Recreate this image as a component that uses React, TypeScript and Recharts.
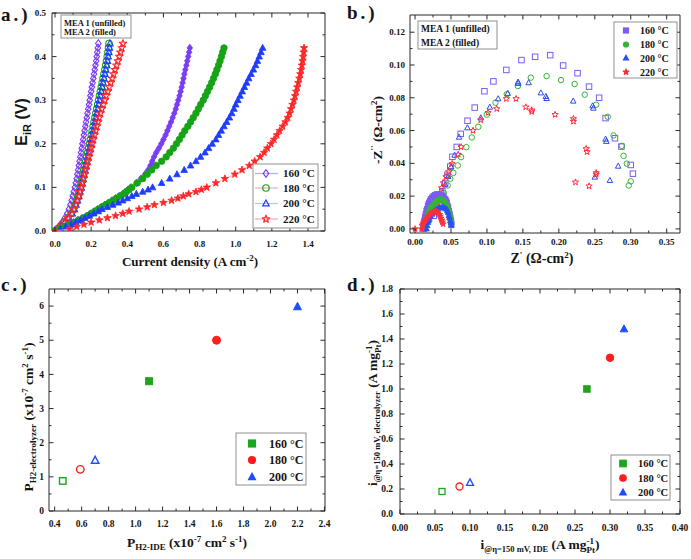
import React from 'react';
import { ScatterChart, Scatter, XAxis, YAxis } from 'recharts';

const SERIF = '"Liberation Serif", "Times New Roman", serif';
const SANS = '"Liberation Sans", Arial, sans-serif';
const INK = '#141414';
const FRAME = '#2a2a2a';

// ---------------- Panel a: polarization curves ----------------
const A_TEMPS = ['160 °C', '180 °C', '200 °C', '220 °C'];
const A_X_TICKS = [0, 0.2, 0.4, 0.6, 0.8, 1.0, 1.2, 1.4];
const A_Y_TICKS = [0, 0.1, 0.2, 0.3, 0.4, 0.5];

// MEA 1 (unfilled): voltage levels and current densities
const A_E_UNF = [0, 0.01, 0.02, 0.03, 0.04, 0.05, 0.06, 0.07, 0.08, 0.09, 0.10, 0.11, 0.12, 0.13, 0.14, 0.15, 0.16, 0.17, 0.18, 0.19, 0.20, 0.21, 0.22, 0.23, 0.24, 0.25, 0.26, 0.27, 0.28, 0.29, 0.30, 0.31, 0.32, 0.33, 0.34, 0.35, 0.36, 0.37, 0.38, 0.39, 0.40, 0.41, 0.42, 0.43];
const A_I_UNF_160 = [0, 0.022, 0.040, 0.055, 0.068, 0.077, 0.085, 0.092, 0.098, 0.104, 0.110, 0.115, 0.120, 0.124, 0.128, 0.132, 0.136, 0.140, 0.144, 0.148, 0.152, 0.156, 0.160, 0.164, 0.168, 0.172, 0.176, 0.180, 0.184, 0.188, 0.192, 0.196, 0.200, 0.204, 0.208, 0.212, 0.216, 0.220, 0.224, 0.228, 0.231, 0.234, 0.237, 0.240];
const A_I_UNF_180 = [0, 0.028, 0.052, 0.072, 0.090, 0.102, 0.111, 0.119, 0.126, 0.133, 0.140, 0.145, 0.150, 0.155, 0.160, 0.165, 0.170, 0.175, 0.181, 0.186, 0.191, 0.196, 0.201, 0.206, 0.211, 0.216, 0.221, 0.226, 0.231, 0.236, 0.241, 0.246, 0.251, 0.256, 0.261, 0.266, 0.271, 0.276, 0.281, 0.285, 0.289, 0.293, 0.296, 0.299];
const A_I_UNF_200 = [0, 0.030, 0.055, 0.075, 0.095, 0.107, 0.116, 0.124, 0.131, 0.138, 0.145, 0.150, 0.155, 0.160, 0.165, 0.170, 0.175, 0.180, 0.186, 0.191, 0.196, 0.201, 0.206, 0.211, 0.216, 0.221, 0.226, 0.231, 0.236, 0.241, 0.246, 0.251, 0.256, 0.261, 0.266, 0.271, 0.276, 0.281, 0.286, 0.290, 0.294, 0.298, 0.301, 0.304];
const A_I_UNF_220 = [0, 0.025, 0.050, 0.072, 0.092, 0.104, 0.114, 0.123, 0.131, 0.139, 0.146, 0.152, 0.158, 0.164, 0.170, 0.176, 0.182, 0.188, 0.194, 0.200, 0.206, 0.212, 0.218, 0.225, 0.231, 0.238, 0.244, 0.251, 0.259, 0.267, 0.275, 0.283, 0.292, 0.300, 0.308, 0.316, 0.324, 0.332, 0.340, 0.348, 0.355, 0.362, 0.369, 0.376];

// MEA 2 (filled)
const A_E_FIL = [0, 0.005, 0.01, 0.015, 0.02, 0.025, 0.03, 0.035, 0.04, 0.045, 0.05, 0.055, 0.06, 0.065, 0.07, 0.075, 0.08, 0.085, 0.09, 0.095, 0.10, 0.11, 0.12, 0.13, 0.14, 0.15, 0.16, 0.17, 0.18, 0.19, 0.20, 0.21, 0.22, 0.23, 0.24, 0.25, 0.26, 0.27, 0.28, 0.29, 0.30, 0.31, 0.32, 0.33, 0.34, 0.35, 0.36, 0.37, 0.38, 0.39, 0.40, 0.41, 0.42];
const A_I_FIL_160 = [0, 0.024, 0.048, 0.077, 0.102, 0.127, 0.152, 0.176, 0.196, 0.216, 0.236, 0.256, 0.276, 0.296, 0.316, 0.335, 0.355, 0.374, 0.390, 0.405, 0.420, 0.450, 0.475, 0.498, 0.515, 0.528, 0.538, 0.548, 0.560, 0.575, 0.588, 0.600, 0.612, 0.622, 0.632, 0.642, 0.651, 0.660, 0.668, 0.675, 0.682, 0.689, 0.695, 0.701, 0.706, 0.711, 0.716, 0.721, 0.727, 0.732, 0.737, 0.742, 0.746];
const A_I_FIL_180 = [0, 0.025, 0.050, 0.080, 0.105, 0.130, 0.155, 0.180, 0.200, 0.220, 0.240, 0.260, 0.280, 0.300, 0.320, 0.340, 0.360, 0.380, 0.395, 0.410, 0.425, 0.455, 0.485, 0.510, 0.535, 0.560, 0.590, 0.615, 0.635, 0.655, 0.672, 0.688, 0.703, 0.718, 0.735, 0.750, 0.765, 0.780, 0.793, 0.806, 0.820, 0.832, 0.844, 0.856, 0.867, 0.877, 0.887, 0.896, 0.905, 0.913, 0.921, 0.928, 0.935];
const A_I_FIL_200 = [0, 0.030, 0.060, 0.090, 0.115, 0.140, 0.165, 0.190, 0.215, 0.240, 0.260, 0.290, 0.320, 0.350, 0.375, 0.400, 0.425, 0.450, 0.485, 0.515, 0.540, 0.590, 0.635, 0.675, 0.715, 0.750, 0.780, 0.805, 0.830, 0.850, 0.870, 0.890, 0.905, 0.920, 0.935, 0.950, 0.965, 0.978, 0.990, 1.000, 1.012, 1.024, 1.036, 1.048, 1.060, 1.072, 1.085, 1.098, 1.110, 1.120, 1.130, 1.140, 1.149];
const A_I_FIL_220 = [0, 0.080, 0.120, 0.160, 0.200, 0.245, 0.290, 0.335, 0.375, 0.410, 0.465, 0.510, 0.550, 0.600, 0.645, 0.680, 0.710, 0.740, 0.780, 0.810, 0.840, 0.890, 0.940, 0.995, 1.035, 1.075, 1.105, 1.135, 1.157, 1.175, 1.195, 1.212, 1.228, 1.243, 1.260, 1.275, 1.288, 1.298, 1.306, 1.314, 1.322, 1.328, 1.334, 1.340, 1.346, 1.352, 1.357, 1.362, 1.366, 1.370, 1.373, 1.376, 1.378];

// ---------------- Panel b: Nyquist plots [Z', -Z''] ----------------
const B_X_TICKS = [0, 0.05, 0.10, 0.15, 0.20, 0.25, 0.30, 0.35];
const B_Y_TICKS = [0, 0.02, 0.04, 0.06, 0.08, 0.10, 0.12];
const B_UNF_160 = [[0.026, 0.008], [0.030, 0.013], [0.034, 0.018], [0.038, 0.023], [0.042, 0.028], [0.045, 0.033], [0.049, 0.038], [0.052, 0.044], [0.058, 0.050], [0.0635, 0.058], [0.073, 0.066], [0.083, 0.074], [0.0965, 0.084], [0.109, 0.090], [0.127, 0.097], [0.148, 0.103], [0.167, 0.105], [0.188, 0.106], [0.206, 0.0997], [0.226, 0.095], [0.242, 0.0868], [0.256, 0.080], [0.265, 0.0676], [0.278, 0.0553], [0.287, 0.0502], [0.300, 0.039], [0.303, 0.0337]];
const B_UNF_180 = [[0.032, 0.013], [0.036, 0.018], [0.040, 0.022], [0.0455, 0.0265], [0.049, 0.0306], [0.0533, 0.0342], [0.0594, 0.0387], [0.064, 0.0438], [0.0714, 0.0499], [0.0789, 0.0558], [0.088, 0.0623], [0.0997, 0.0697], [0.1118, 0.077], [0.1276, 0.0822], [0.143, 0.0872], [0.161, 0.0923], [0.183, 0.0932], [0.203, 0.0908], [0.222, 0.0884], [0.236, 0.0819], [0.2519, 0.0758], [0.268, 0.0684], [0.276, 0.057], [0.2876, 0.0507], [0.290, 0.0446], [0.2945, 0.0398], [0.300, 0.029], [0.2973, 0.0265]];
const B_UNF_200 = [[0.030, 0.012], [0.034, 0.017], [0.038, 0.022], [0.042, 0.027], [0.046, 0.032], [0.050, 0.038], [0.055, 0.045], [0.0612, 0.056], [0.0728, 0.0617], [0.0915, 0.0678], [0.104, 0.0743], [0.1156, 0.0794], [0.129, 0.0827], [0.1433, 0.0896], [0.1433, 0.0888], [0.158, 0.0892], [0.175, 0.083], [0.182, 0.0808], [0.183, 0.0796], [0.220, 0.078], [0.247, 0.0751], [0.248, 0.0737], [0.265, 0.0548], [0.266, 0.0534], [0.2825, 0.0383], [0.271, 0.0296], [0.250, 0.0316]];
const B_UNF_220 = [[0.028, 0.012], [0.031, 0.016], [0.034, 0.021], [0.037, 0.025], [0.0394, 0.0281], [0.043, 0.0318], [0.0468, 0.0348], [0.0515, 0.0397], [0.060, 0.0454], [0.064, 0.050], [0.0807, 0.060], [0.0914, 0.0664], [0.1016, 0.0709], [0.1136, 0.0733], [0.127, 0.0794], [0.1405, 0.0794], [0.154, 0.0743], [0.1623, 0.0725], [0.1623, 0.0715], [0.1948, 0.0697], [0.2203, 0.0672], [0.2203, 0.0656], [0.238, 0.0489], [0.2393, 0.047], [0.2519, 0.0342], [0.2519, 0.0332], [0.2231, 0.0285], [0.2421, 0.0261]];
const B_FIL_160 = [[0.012, 0.000], [0.0125, 0.003], [0.013, 0.005], [0.014, 0.007], [0.015, 0.009], [0.016, 0.011], [0.017, 0.012], [0.018, 0.014], [0.019, 0.015], [0.020, 0.016], [0.021, 0.017], [0.022, 0.018], [0.024, 0.019], [0.026, 0.020], [0.028, 0.0205], [0.030, 0.021], [0.032, 0.021], [0.034, 0.021], [0.036, 0.0205], [0.038, 0.020], [0.040, 0.019], [0.042, 0.018], [0.043, 0.017], [0.044, 0.016], [0.045, 0.014], [0.046, 0.013], [0.047, 0.011], [0.048, 0.009], [0.049, 0.007], [0.050, 0.005], [0.0505, 0.003]];
const B_FIL_180 = [[0.014, 0.000], [0.015, 0.003], [0.016, 0.005], [0.017, 0.007], [0.018, 0.009], [0.019, 0.010], [0.020, 0.011], [0.022, 0.013], [0.024, 0.014], [0.026, 0.015], [0.028, 0.016], [0.030, 0.017], [0.032, 0.0175], [0.034, 0.018], [0.036, 0.018], [0.038, 0.0175], [0.040, 0.017], [0.042, 0.016], [0.044, 0.0145], [0.045, 0.013], [0.046, 0.012], [0.047, 0.010], [0.048, 0.009], [0.049, 0.007], [0.050, 0.005], [0.0505, 0.003]];
const B_FIL_200 = [[0.016, 0.000], [0.017, 0.002], [0.018, 0.004], [0.019, 0.005], [0.020, 0.006], [0.022, 0.0075], [0.024, 0.009], [0.026, 0.010], [0.028, 0.011], [0.030, 0.012], [0.032, 0.0125], [0.034, 0.013], [0.036, 0.013], [0.038, 0.0135], [0.040, 0.013], [0.042, 0.0125], [0.044, 0.012], [0.045, 0.011], [0.046, 0.010], [0.047, 0.008], [0.048, 0.007], [0.049, 0.005], [0.050, 0.004], [0.0505, 0.002]];
const B_FIL_220 = [[0.000, 0.000], [0.009, 0.000], [0.010, 0.002], [0.011, 0.003], [0.012, 0.004], [0.014, 0.005], [0.016, 0.0065], [0.018, 0.0075], [0.020, 0.0085], [0.022, 0.0095], [0.024, 0.010], [0.026, 0.0108], [0.028, 0.011], [0.030, 0.0105], [0.032, 0.0098], [0.034, 0.0088], [0.035, 0.0078], [0.036, 0.0066], [0.037, 0.0054], [0.038, 0.0042], [0.039, 0.003]];

// ---------------- Panel c: permeability ----------------
const CD_TEMPS = ['160 °C', '180 °C', '200 °C'];
const C_X_TICKS = [0.4, 0.6, 0.8, 1.0, 1.2, 1.4, 1.6, 1.8, 2.0, 2.2, 2.4];
const C_Y_TICKS = [0, 1, 2, 3, 4, 5, 6];
const C_MEA1_X = [0.46, 0.59, 0.70];
const C_MEA1_Y = [0.88, 1.22, 1.48];
const C_MEA2_X = [1.10, 1.60, 2.20];
const C_MEA2_Y = [3.80, 5.00, 5.98];

// ---------------- Panel d: mass activity ----------------
const D_X_TICKS = [0, 0.05, 0.10, 0.15, 0.20, 0.25, 0.30, 0.35, 0.40];
const D_Y_TICKS = [0, 0.2, 0.4, 0.6, 0.8, 1.0, 1.2, 1.4, 1.6, 1.8];
const D_MEA1_X = [0.060, 0.085, 0.100];
const D_MEA1_Y = [0.18, 0.22, 0.25];
const D_MEA2_X = [0.267, 0.300, 0.320];
const D_MEA2_Y = [1.00, 1.25, 1.48];

// ---------------- styles ----------------
type Kind = 'square' | 'circle' | 'triangle' | 'diamond' | 'star';
const A_KINDS: Kind[] = ['diamond', 'circle', 'triangle', 'star'];
const A_COLORS = ['#7a3cf5', '#16a316', '#1e3cff', '#ff2626'];
const A_LINES = ['#b7acec', '#f3a6c0', '#a8d5c6', '#f3a6c0'];
const B_KINDS: Kind[] = ['square', 'circle', 'triangle', 'star'];
const B_COLORS = ['#7b5cf2', '#35b535', '#2c4ff0', '#ff2d3a'];
const CD_KINDS: Kind[] = ['square', 'circle', 'triangle'];
const CD_COLORS = ['#1ea51e', '#ff1c1c', '#1f4dff'];

function Mark({ kind, cx, cy, size, color, filled, sw }: any) {
  if (cx == null || cy == null || Number.isNaN(cx) || Number.isNaN(cy)) return null;
  const fill = filled ? color : 'none';
  const h = size / 2;
  const common = { fill, stroke: color, strokeWidth: sw };
  switch (kind as Kind) {
    case 'square':
      return <rect x={cx - h} y={cy - h} width={size} height={size} {...common} />;
    case 'circle':
      return <circle cx={cx} cy={cy} r={h} {...common} />;
    case 'diamond':
      return <polygon points={`${cx},${cy - h * 1.15} ${cx + h * 0.85},${cy} ${cx},${cy + h * 1.15} ${cx - h * 0.85},${cy}`} {...common} />;
    case 'triangle':
      return <polygon points={`${cx},${cy - h * 1.1} ${cx + h},${cy + h * 0.75} ${cx - h},${cy + h * 0.75}`} {...common} />;
    case 'star': {
      const pts: string[] = [];
      for (let i = 0; i < 10; i++) {
        const r = i % 2 === 0 ? h * 1.2 : h * 0.5;
        const a = -Math.PI / 2 + (i * Math.PI) / 5;
        pts.push(`${cx + r * Math.cos(a)},${cy + r * Math.sin(a)}`);
      }
      return <polygon points={pts.join(' ')} {...common} strokeLinejoin="round" />;
    }
  }
  return null;
}

const withMinor = (majors: number[]) => {
  const out: number[] = [];
  for (let i = 0; i < majors.length; i++) {
    out.push(majors[i]);
    if (i < majors.length - 1) out.push(+((majors[i] + majors[i + 1]) / 2).toFixed(6));
  }
  return out;
};

function Tick(props: any) {
  const { x, y, payload, side, majors, fmt, fs, off, labels } = props;
  const v = payload ? payload.value : 0;
  const major = majors.some((m: number) => Math.abs(m - v) < 1e-7);
  const L = major ? 4.5 : 2.5;
  let ln: number[];
  if (side === 'bottom') ln = [x, y, x, y - L];
  else if (side === 'top') ln = [x, y, x, y + L];
  else if (side === 'left') ln = [x, y, x + L, y];
  else ln = [x, y, x - L, y];
  let label = null;
  if (labels && major) {
    if (side === 'bottom') {
      label = (
        <text x={x} y={y + off} textAnchor="middle" fontSize={fs} fontWeight="bold" fontFamily={SERIF} fill={INK}>
          {fmt(v)}
        </text>
      );
    } else if (side === 'left') {
      label = (
        <text x={x - off} y={y + fs * 0.34} textAnchor="end" fontSize={fs} fontWeight="bold" fontFamily={SERIF} fill={INK}>
          {fmt(v)}
        </text>
      );
    }
  }
  return (
    <g>
      <line x1={ln[0]} y1={ln[1]} x2={ln[2]} y2={ln[3]} stroke={FRAME} strokeWidth={1} />
      {label}
    </g>
  );
}

function Panel(props: any) {
  const { pos, size, plot, xDom, yDom, xMaj, yMaj, xFmt, yFmt, fs, xOff, yOff, series } = props;
  const xAll = withMinor(xMaj);
  const yAll = withMinor(yMaj);
  const axisLine = { stroke: FRAME, strokeWidth: 1 };
  const common = { type: 'number' as const, allowDataOverflow: true, interval: 0 as const, tickSize: 0, tickMargin: 0, tickLine: false, axisLine };
  return (
    <div style={{ position: 'absolute', left: pos[0], top: pos[1], width: size[0], height: size[1] }}>
      <ScatterChart width={size[0]} height={size[1]} margin={{ top: 0, right: 0, bottom: 0, left: 0 }}>
        <XAxis xAxisId="b" orientation="bottom" dataKey="x" domain={xDom} ticks={xAll} height={size[1] - plot.b} {...common}
          tick={<Tick side="bottom" majors={xMaj} fmt={xFmt} fs={fs} off={xOff} labels />} />
        <XAxis xAxisId="t" orientation="top" dataKey="x" domain={xDom} ticks={xAll} height={plot.t} {...common}
          tick={<Tick side="top" majors={xMaj} />} />
        <YAxis yAxisId="l" orientation="left" dataKey="y" domain={yDom} ticks={yAll} width={plot.l} {...common}
          tick={<Tick side="left" majors={yMaj} fmt={yFmt} fs={fs} off={yOff} labels />} />
        <YAxis yAxisId="r" orientation="right" dataKey="y" domain={yDom} ticks={yAll} width={size[0] - plot.r} {...common}
          tick={<Tick side="right" majors={yMaj} />} />
        {series}
      </ScatterChart>
    </div>
  );
}

const toPts = (xs: number[], ys: number[]) => xs.map((x, i) => ({ x, y: ys[i] }));
const pairPts = (arr: number[][]) => arr.map((p) => ({ x: p[0], y: p[1] }));

function LegendBox({ x, y, w, h, rows, markX, textX, fs, size, filled, lineX }: any) {
  return (
    <g>
      <rect x={x} y={y} width={w} height={h} fill="#fff" stroke="#8f8f8f" strokeWidth={1} />
      {rows.map((r: any, i: number) => (
        <g key={i}>
          {lineX ? <line x1={lineX[0]} x2={lineX[1]} y1={r.y} y2={r.y} stroke={r.line} strokeWidth={1.2} /> : null}
          <Mark kind={r.kind} cx={markX} cy={r.y} size={size} color={r.color} filled={filled} sw={1.2} />
          <text x={textX} y={r.y + fs * 0.36} fontSize={fs} fontWeight="bold" fontFamily={SERIF} fill={INK}>{r.label}</text>
        </g>
      ))}
    </g>
  );
}

export default function App() {
  const aUnf = [A_I_UNF_160, A_I_UNF_180, A_I_UNF_200, A_I_UNF_220];
  const aFil = [A_I_FIL_160, A_I_FIL_180, A_I_FIL_200, A_I_FIL_220];
  const aSeries: any[] = [];
  A_KINDS.forEach((k, i) => {
    aSeries.push(
      <Scatter key={'au' + i} xAxisId="b" yAxisId="l" data={toPts(aUnf[i], A_E_UNF)} isAnimationActive={false}
        line={{ stroke: A_LINES[i], strokeWidth: 0.8 }} lineType="joint"
        shape={(p: any) => <Mark kind={k} cx={p.cx} cy={p.cy} size={6.5} color={A_COLORS[i]} filled={false} sw={1.1} />} />
    );
  });
  A_KINDS.forEach((k, i) => {
    aSeries.push(
      <Scatter key={'af' + i} xAxisId="b" yAxisId="l" data={toPts(aFil[i], A_E_FIL)} isAnimationActive={false}
        line={{ stroke: A_LINES[i], strokeWidth: 0.8 }} lineType="joint"
        shape={(p: any) => <Mark kind={k} cx={p.cx} cy={p.cy} size={6.5} color={A_COLORS[i]} filled sw={0.8} />} />
    );
  });

  const bUnf = [B_UNF_160, B_UNF_180, B_UNF_200, B_UNF_220];
  const bFil = [B_FIL_160, B_FIL_180, B_FIL_200, B_FIL_220];
  const bSeries: any[] = [];
  B_KINDS.forEach((k, i) => {
    bSeries.push(
      <Scatter key={'bu' + i} xAxisId="b" yAxisId="l" data={pairPts(bUnf[i])} isAnimationActive={false}
        shape={(p: any) => <Mark kind={k} cx={p.cx} cy={p.cy} size={5.5} color={B_COLORS[i]} filled={false} sw={1} />} />
    );
  });
  B_KINDS.forEach((k, i) => {
    bSeries.push(
      <Scatter key={'bf' + i} xAxisId="b" yAxisId="l" data={pairPts(bFil[i])} isAnimationActive={false}
        shape={(p: any) => <Mark kind={k} cx={p.cx} cy={p.cy} size={5.5} color={B_COLORS[i]} filled sw={0.8} />} />
    );
  });

  const cSeries: any[] = [];
  const dSeries: any[] = [];
  CD_KINDS.forEach((k, i) => {
    cSeries.push(
      <Scatter key={'cu' + i} xAxisId="b" yAxisId="l" data={[{ x: C_MEA1_X[i], y: C_MEA1_Y[i] }]} isAnimationActive={false}
        shape={(p: any) => <Mark kind={k} cx={p.cx} cy={p.cy} size={k === 'square' ? 6.5 : 7.5} color={CD_COLORS[i]} filled={false} sw={1.4} />} />,
      <Scatter key={'cf' + i} xAxisId="b" yAxisId="l" data={[{ x: C_MEA2_X[i], y: C_MEA2_Y[i] }]} isAnimationActive={false}
        shape={(p: any) => <Mark kind={k} cx={p.cx} cy={p.cy} size={k === 'square' ? 7 : 8} color={CD_COLORS[i]} filled sw={1} />} />
    );
    dSeries.push(
      <Scatter key={'du' + i} xAxisId="b" yAxisId="l" data={[{ x: D_MEA1_X[i], y: D_MEA1_Y[i] }]} isAnimationActive={false}
        shape={(p: any) => <Mark kind={k} cx={p.cx} cy={p.cy} size={k === 'square' ? 6 : 7} color={CD_COLORS[i]} filled={false} sw={1.3} />} />,
      <Scatter key={'df' + i} xAxisId="b" yAxisId="l" data={[{ x: D_MEA2_X[i], y: D_MEA2_Y[i] }]} isAnimationActive={false}
        shape={(p: any) => <Mark kind={k} cx={p.cx} cy={p.cy} size={k === 'square' ? 6.5 : 7.5} color={CD_COLORS[i]} filled sw={1} />} />
    );
  });

  const aLegendY = [173.5, 188, 203.5, 219];
  const bLegendY = [30.5, 44.5, 58, 72];
  const cLegendY = [443.5, 460, 477];
  const dLegendY = [463.5, 478, 492.5];

  return (
    <div style={{ position: 'absolute', left: 0, top: 0, width: 691, height: 559, background: '#fff', overflow: 'hidden' }}>
      <Panel pos={[0, 0]} size={[345, 280]} plot={{ l: 52, t: 13, r: 325, b: 231 }} xDom={[-0.0166, 1.494]} yDom={[0, 0.5]}
        xMaj={A_X_TICKS} yMaj={A_Y_TICKS} xFmt={(v: number) => v.toFixed(1)} yFmt={(v: number) => v.toFixed(1)} fs={9} xOff={16} yOff={6} series={aSeries} />
      <Panel pos={[345, 0]} size={[346, 280]} plot={{ l: 65, t: 15, r: 335, b: 233 }} xDom={[-0.007, 0.3685]} yDom={[-0.0025, 0.1305]}
        xMaj={B_X_TICKS} yMaj={B_Y_TICKS} xFmt={(v: number) => v.toFixed(2)} yFmt={(v: number) => v.toFixed(2)} fs={9} xOff={12} yOff={5} series={bSeries} />
      <Panel pos={[0, 280]} size={[345, 279]} plot={{ l: 49, t: 9, r: 325, b: 231 }} xDom={[0.358, 2.404]} yDom={[0, 6.5]}
        xMaj={C_X_TICKS} yMaj={C_Y_TICKS} xFmt={(v: number) => v.toFixed(1)} yFmt={(v: number) => String(v)} fs={9.5} xOff={16} yOff={5} series={cSeries} />
      <Panel pos={[345, 280]} size={[346, 279]} plot={{ l: 55, t: 9, r: 335, b: 234 }} xDom={[0, 0.4]} yDom={[0, 1.8]}
        xMaj={D_X_TICKS} yMaj={D_Y_TICKS} xFmt={(v: number) => v.toFixed(2)} yFmt={(v: number) => v.toFixed(1)} fs={9.5} xOff={17} yOff={7} series={dSeries} />

      <svg width={691} height={559} style={{ position: 'absolute', left: 0, top: 0, pointerEvents: 'none' }}>
        <g fontFamily={SERIF} fontWeight="bold" fill={INK}>
          {/* panel letters */}
          <text x={1} y={21} fontSize={19} letterSpacing={3}>a.)</text>
          <text x={347} y={19} fontSize={19} letterSpacing={3}>b.)</text>
          <text x={1} y={291} fontSize={19} letterSpacing={3}>c.)</text>
          <text x={347} y={291} fontSize={19} letterSpacing={3}>d.)</text>

          {/* panel a titles */}
          <text x={190} y={266} fontSize={13} textAnchor="middle">
            Current density (A cm<tspan dy={-5} fontSize={9}>-2</tspan><tspan dy={5}>)</tspan>
          </text>
          <text transform="translate(27,122) rotate(-90)" fontSize={16} textAnchor="middle" fontFamily={SANS}>
            E<tspan dy={4} fontSize={11}>iR</tspan><tspan dy={-4}> (V)</tspan>
          </text>

          {/* panel b titles */}
          <text x={542} y={263} fontSize={14} textAnchor="middle">
            Z<tspan dy={-5} fontSize={9}>'</tspan><tspan dy={5}> (Ω-cm</tspan><tspan dy={-5} fontSize={9}>2</tspan><tspan dy={5}>)</tspan>
          </text>
          <text transform="translate(382,130) rotate(-90)" fontSize={13.5} textAnchor="middle">
            -Z<tspan dy={-5} fontSize={9}>''</tspan><tspan dy={5}> (Ω-cm</tspan><tspan dy={-5} fontSize={9}>2</tspan><tspan dy={5}>)</tspan>
          </text>

          {/* panel c titles */}
          <text x={187} y={547} fontSize={13.5} textAnchor="middle">
            P<tspan dy={3} fontSize={9}>H2-IDE</tspan><tspan dy={-3}> (x10</tspan><tspan dy={-5} fontSize={9}>-7</tspan><tspan dy={5}> cm</tspan><tspan dy={-5} fontSize={9}>2</tspan><tspan dy={5}> s</tspan><tspan dy={-5} fontSize={9}>-1</tspan><tspan dy={5}>)</tspan>
          </text>
          <text transform="translate(33,417) rotate(-90)" fontSize={13.5} textAnchor="middle">
            P<tspan dy={3} fontSize={9}>H2-electrolyzer</tspan><tspan dy={-3}> (x10</tspan><tspan dy={-5} fontSize={9}>-7</tspan><tspan dy={5}> cm</tspan><tspan dy={-5} fontSize={9}>2</tspan><tspan dy={5}> s</tspan><tspan dy={-5} fontSize={9}>-1</tspan><tspan dy={5}>)</tspan>
          </text>

          {/* panel d titles */}
          <text x={540} y={549} fontSize={13.5} textAnchor="middle">
            i<tspan dy={3} fontSize={8.5}>@η=150 mV, IDE</tspan><tspan dy={-3}> (A mg</tspan><tspan dy={-5} fontSize={9}>-1</tspan><tspan dx={-7.5} dy={9} fontSize={9}>Pt</tspan><tspan dy={-4}>)</tspan>
          </text>
          <text transform="translate(377,413) rotate(-90)" fontSize={13.5} textAnchor="middle">
            i<tspan dy={3} fontSize={8.5}>@η=150 mV, electrolyzer</tspan><tspan dy={-3}> (A mg</tspan><tspan dy={-5} fontSize={9}>-1</tspan><tspan dx={-7.5} dy={9} fontSize={9}>Pt</tspan><tspan dy={-4}>)</tspan>
          </text>

          {/* MEA boxes */}
          <rect x={61} y={15} width={70} height={23} fill="#fff" stroke="#8f8f8f" strokeWidth={1} />
          <text x={64} y={25.5} fontSize={8.5}>MEA 1 (unfilled)</text>
          <text x={64} y={35} fontSize={8.5}>MEA 2 (filled)</text>
          <rect x={418} y={21} width={79} height={28} fill="#fff" stroke="#8f8f8f" strokeWidth={1} />
          <text x={421} y={32} fontSize={9.5}>MEA 1 (unfilled)</text>
          <text x={421} y={45.5} fontSize={9.5}>MEA 2 (filled)</text>
        </g>

        <LegendBox x={253} y={164} w={65} h={64} markX={266} textX={283} fs={11} size={6.5} filled={false} lineX={[255, 278]}
          rows={A_TEMPS.map((t, i) => ({ label: t, y: aLegendY[i], kind: A_KINDS[i], color: A_COLORS[i], line: A_LINES[i] }))} />
        <LegendBox x={614} y={22} w={63} h={56} markX={626} textX={640} fs={10} size={5} filled
          rows={A_TEMPS.map((t, i) => ({ label: t, y: bLegendY[i], kind: B_KINDS[i], color: B_COLORS[i] }))} />
        <LegendBox x={236} y={433} w={70} h={52} markX={252} textX={269} fs={12} size={7} filled
          rows={CD_TEMPS.map((t, i) => ({ label: t, y: cLegendY[i], kind: CD_KINDS[i], color: CD_COLORS[i] }))} />
        <LegendBox x={611} y={455} w={59} h={45} markX={623} textX={638} fs={10.5} size={6.5} filled
          rows={CD_TEMPS.map((t, i) => ({ label: t, y: dLegendY[i], kind: CD_KINDS[i], color: CD_COLORS[i] }))} />
      </svg>
    </div>
  );
}
